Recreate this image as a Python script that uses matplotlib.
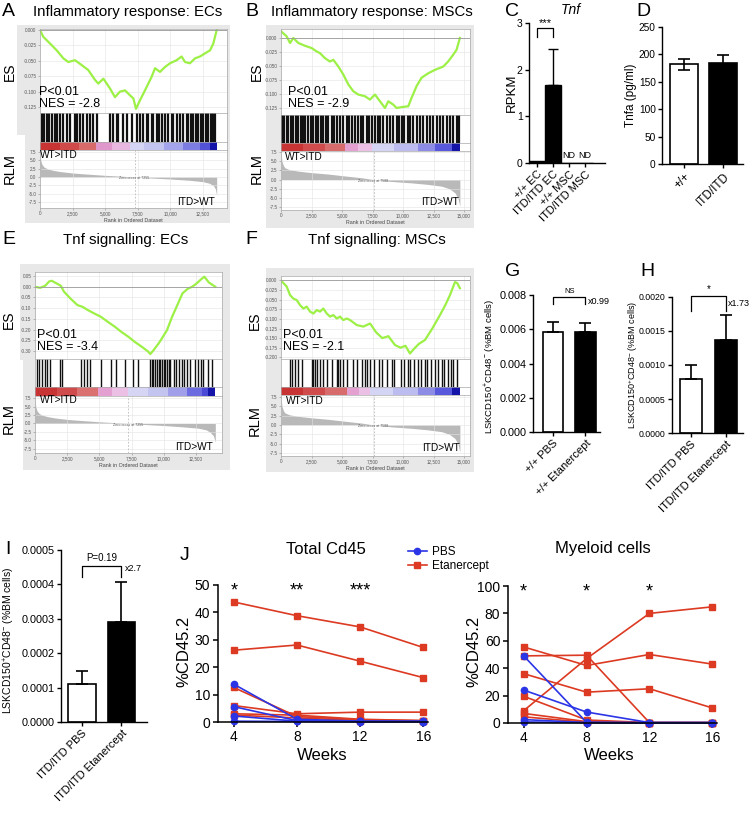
import matplotlib
matplotlib.use("Agg")
import matplotlib.pyplot as plt
from matplotlib.patches import Rectangle
from matplotlib.lines import Line2D

plt.rcParams['font.family'] = ['Liberation Sans', 'DejaVu Sans']
plt.rcParams['mathtext.fontset'] = 'custom'
plt.rcParams['mathtext.rm'] = 'Liberation Sans'
plt.rcParams['mathtext.it'] = 'Liberation Sans:italic'

W, H = 752, 817

# ---------------- GSEA data ----------------
# A: inflammatory response, ECs
esA_rank = [0, 250, 770, 1280, 1790, 2170, 2680, 3200, 3700, 4220, 4470, 4860, 5370, 5750,
            6130, 6520, 6900, 7160, 7360, 7670, 8050, 8560, 8820, 9200, 9590, 9970, 10480,
            10860, 11120, 11500, 11890, 12270, 12650, 13040, 13290, 13550]
esA_val = [0.000, -0.011, -0.022, -0.033, -0.046, -0.052, -0.049, -0.057, -0.065, -0.081, -0.087,
           -0.079, -0.095, -0.109, -0.100, -0.098, -0.106, -0.111, -0.128, -0.114, -0.098, -0.076,
           -0.062, -0.068, -0.060, -0.054, -0.049, -0.043, -0.052, -0.054, -0.046, -0.043, -0.038,
           -0.033, -0.022, 0.000]
hitsA = [130, 330, 510, 720, 900, 1150, 1280, 1530, 1790, 2050, 2300, 2690, 2860, 3070, 3320,
         3630, 3840, 4090, 4350, 5370, 5620, 5880, 6010, 6390, 6650, 7030, 7410, 7670, 7930,
         8180, 8310, 8560, 8690, 8950, 9150, 9330, 9590, 9840, 10100, 10230, 10480, 10740,
         10990, 11250, 11380, 11580, 11760, 11970, 12140, 12330, 12530, 12730, 12910, 13090,
         13300, 13450]
bandA_edges = [0, 1500, 3000, 4300, 5500, 6900, 8000, 9500, 11000, 12300, 13000, 13550]
bandA_colors = ['#c83434', '#d04a4a', '#d86a6a', '#e098cc', '#e8b8e0', '#d4d4f4', '#c4c4f0',
                '#a4a4ec', '#7c7ce2', '#5252d8', '#1414a8']
rlmA_rank = [0, 60, 150, 300, 600, 1000, 1600, 2500, 3500, 5000, 6200, 7255, 8500, 10000,
             11500, 12500, 13000, 13300, 13450, 13550]
rlmA_val = [7.4, 5.0, 3.8, 3.0, 2.4, 2.0, 1.6, 1.2, 0.9, 0.5, 0.25, 0.0, -0.3, -0.6, -1.0,
            -1.4, -1.9, -2.6, -3.6, -5.5]

# B: inflammatory response, MSCs
esB_rank = [0, 460, 740, 1010, 1420, 1970, 2510, 2920, 3190, 3600, 4010, 4290, 4700, 5100, 5520,
            5920, 6330, 6880, 7290, 7700, 8110, 8520, 8790, 9200, 9470, 10020, 10430, 10700,
            11110, 11520, 12070, 12610, 13300, 13700, 14110, 14390, 14660]
esB_val = [0.012, 0.003, -0.009, 0.000, -0.009, -0.014, -0.018, -0.024, -0.027, -0.036, -0.042,
           -0.039, -0.051, -0.065, -0.083, -0.095, -0.101, -0.104, -0.110, -0.101, -0.113, -0.125,
           -0.113, -0.119, -0.125, -0.123, -0.122, -0.107, -0.086, -0.071, -0.063, -0.057, -0.051,
           -0.042, -0.030, -0.021, 0.000]
hitsB = [110, 270, 460, 600, 820, 1010, 1200, 1420, 1640, 1830, 1970, 2240, 2460, 2650, 2840,
         3060, 3280, 3470, 3660, 3880, 4150, 4370, 4560, 4830, 5100, 5380, 5570, 5790, 6060,
         6330, 6550, 6740, 7020, 7210, 7430, 7700, 7920, 8110, 8380, 8650, 8930, 9200, 9470,
         9660, 9880, 10100, 10370, 10570, 10840, 11110, 11380, 11660, 11930, 12200, 12480,
         12750, 13020, 13300, 13570, 13840, 14110, 14390, 14580]
bandB_edges = [0, 1800, 3600, 5240, 6300, 7430, 9300, 11250, 12600, 14000, 14660]
bandB_colors = ['#c83434', '#d04c4c', '#d86c6c', '#e4a0d0', '#ecc0e4', '#d4d4f4', '#bcbcf0',
                '#8c8ce6', '#5858dc', '#1414a8']
rlmB_rank = [0, 80, 200, 330, 700, 1420, 2500, 3880, 5200, 6600, 7588, 9000, 10700, 12000,
             13160, 13800, 14250, 14500, 14660]
rlmB_val = [7.5, 5.0, 3.8, 3.2, 2.7, 2.3, 1.9, 1.5, 1.0, 0.5, 0.0, -0.5, -0.9, -1.3, -1.8,
            -2.5, -3.6, -5.0, -7.3]

# E: Tnf signalling, ECs
esE_rank = [0, 400, 800, 1100, 1300, 1600, 2000, 2250, 2750, 3300, 3700, 4100, 4600, 5100, 5650,
            6200, 6700, 7250, 7750, 8300, 8800, 8950, 9200, 9600, 9850, 10250, 10650, 11050,
            11450, 11850, 12200, 12500, 12900, 13150, 13500, 14000]
esE_val = [0.000, -0.005, 0.005, 0.025, 0.028, 0.018, 0.005, -0.023, -0.055, -0.086, -0.094,
           -0.109, -0.125, -0.140, -0.164, -0.187, -0.211, -0.234, -0.258, -0.281, -0.304,
           -0.315, -0.297, -0.265, -0.242, -0.203, -0.140, -0.086, -0.031, -0.010, 0.000,
           0.013, 0.035, 0.047, 0.020, 0.000]
hitsE = [130, 340, 525, 790, 920, 1180, 1970, 2100, 3550, 3810, 4075, 4290, 5130, 5920, 6310,
         6970, 7630, 8020, 8940, 9070, 9200, 9340, 9470, 9600, 9730, 9860, 9990, 10125, 10260,
         10390, 10520, 10780, 10910, 11180, 11440, 11570, 11835, 12030, 12420, 12680, 12860,
         13070, 13450, 13720]
bandE_edges = [0, 1700, 3300, 4870, 6000, 7230, 8800, 10300, 11800, 13000, 13450, 14000]
bandE_colors = ['#c83434', '#d04c4c', '#da7070', '#e4a0d0', '#ecc0e4', '#d6d6f4', '#c4c4f0',
                '#a0a0ea', '#6c6ce0', '#4a4ad6', '#1414a8']
rlmE_rank = [0, 60, 150, 300, 600, 1000, 1600, 2500, 3500, 5000, 6200, 7255, 8500, 10000,
             11500, 12700, 13300, 13600, 13850, 14000]
rlmE_val = [7.4, 5.0, 3.8, 3.0, 2.4, 2.0, 1.6, 1.2, 0.9, 0.5, 0.25, 0.0, -0.3, -0.6, -1.0,
            -1.4, -1.9, -2.6, -3.6, -5.5]

# F: Tnf signalling, MSCs
esF_rank = [0, 470, 740, 1010, 1290, 1560, 1830, 2110, 2380, 2650, 2930, 3200, 3470, 3750, 4020,
            4290, 4570, 4840, 5110, 5390, 5660, 6210, 6750, 7300, 7800, 8300, 8800, 9340, 9800,
            10200, 10570, 10900, 11300, 11800, 12400, 13030, 13450, 13850, 14260, 14450, 14660]
esF_val = [0.000, -0.016, -0.038, -0.047, -0.051, -0.064, -0.073, -0.068, -0.081, -0.086, -0.077,
           -0.081, -0.073, -0.086, -0.094, -0.090, -0.099, -0.094, -0.103, -0.099, -0.103, -0.116,
           -0.120, -0.112, -0.135, -0.150, -0.145, -0.168, -0.175, -0.170, -0.190, -0.178,
           -0.165, -0.155, -0.125, -0.090, -0.065, -0.038, -0.004, -0.007, -0.020]
hitsF = [740, 875, 1150, 1420, 1690, 2510, 2650, 2790, 2920, 3200, 3470, 3750, 4160, 4570, 4700,
         4840, 5110, 5380, 5930, 6200, 6610, 6890, 7020, 7300, 7600, 8000, 8300, 8700, 9100,
         9300, 9800, 10100, 10400, 10600, 10900, 11200, 11500, 11800, 12000, 12300, 12600,
         12900, 13200, 13400, 13700, 13900, 14100, 14400]
bandF_edges = [0, 1800, 3600, 5400, 6400, 7300, 9200, 11200, 12600, 14000, 14660]
bandF_colors = ['#c83434', '#d04c4c', '#d86c6c', '#e4a0d0', '#ecc0e4', '#d4d4f4', '#bcbcf0',
                '#8c8ce6', '#5858dc', '#1414a8']
rlmF_rank = rlmB_rank
rlmF_val = rlmB_val

# ---------------- bar chart data ----------------
c_labels = ['+/+ EC', 'ITD/ITD EC', '+/+ MSC', 'ITD/ITD MSC']
c_rpkm = [0.04, 1.68, 0.0, 0.0]
c_err = [0.01, 0.77, 0.0, 0.0]
c_nd = [False, False, True, True]

d_labels = ['+/+', 'ITD/ITD']
d_tnfa = [182, 184]
d_err = [10, 14]

g_labels = ['+/+ PBS', '+/+ Etanercept']
g_vals = [0.00586, 0.00582]
g_err = [0.00056, 0.00053]

h_labels = ['ITD/ITD PBS', 'ITD/ITD Etanercept']
h_vals = [0.00079, 0.00137]
h_err = [0.00021, 0.00037]

i_labels = ['ITD/ITD PBS', 'ITD/ITD Etanercept']
i_vals = [0.000111, 0.000291]
i_err = [0.000036, 0.000117]

# ---------------- J: time course ----------------
weeks = [4, 8, 12, 16]
cd45_etan = [[43.8, 38.8, 34.7, 27.2],
             [26.2, 28.1, 22.2, 16.2],
             [12.6, 2.0, 0.8, 0.5],
             [6.0, 3.0, 3.6, 3.6],
             [3.0, 2.5, 1.0, 0.5],
             [2.5, 1.5, 0.5, 0.3]]
cd45_pbs = [[13.8, 1.0, 0.3, 0.3],
            [5.6, 0.5, 0.2, 0.2],
            [2.2, 0.3, 0.2, 0.1],
            [0.3, 0.2, 0.1, 0.1]]
mye_etan = [[9.0, 47.0, 80.0, 84.8],
            [55.5, 42.0, 50.0, 43.0],
            [49.0, 49.5, 0.3, 0.3],
            [36.0, 22.5, 25.0, 11.0],
            [19.5, 2.2, 0.3, 0.3],
            [7.0, 1.0, 0.2, 0.2],
            [4.5, 0.5, 0.2, 0.2]]
mye_pbs = [[49.0, 0.5, 0.2, 0.2],
           [24.0, 8.0, 0.3, 0.3],
           [2.5, 0.3, 0.2, 0.2],
           [0.8, 0.2, 0.1, 0.1]]
cd45_stars = ['*', '**', '***']
mye_stars = ['*', '*', '*']

RED = '#dc3a22'
BLUE = '#2b35e6'
ES_GREEN = '#9cf046'

fig = plt.figure(figsize=(W / 100, H / 100), dpi=100)


def px_axes(x0, y0, x1, y1):
    return fig.add_axes([x0 / W, 1 - y1 / H, (x1 - x0) / W, (y1 - y0) / H])


def ftext(x, y, s, **kw):
    return fig.text(x / W, 1 - y / H, s, **kw)


def grey_box(x0, y0, x1, y1):
    fig.add_artist(Rectangle((x0 / W, 1 - y1 / H), (x1 - x0) / W, (y1 - y0) / H,
                             transform=fig.transFigure, facecolor='#e8e8e8',
                             edgecolor='none', zorder=-5))


def gsea_style(ax):
    for s in ax.spines.values():
        s.set_color('#a8a8a8')
        s.set_linewidth(0.5)
    ax.tick_params(labelsize=3.3, labelcolor='#555555', length=1.5, width=0.4, color='#888888',
                   pad=1)


def draw_gsea(x0, x1, ys, xmax, xticks, es_rank, es_val, es_lim, es_ticks, es_fmt,
              hits, hit_lw, band_edges, band_colors, rlm_rank, rlm_val, rlm_lim, zero_cross):
    y_es, y_hit, y_band, y_rlm, y_bot = ys
    ax = px_axes(x0, y_es, x1, y_hit)
    ax.plot(es_rank, es_val, color=ES_GREEN, lw=1.6, solid_joinstyle='round')
    ax.axhline(0, color='#9a9a9a', lw=0.6)
    ax.set_xlim(0, xmax)
    ax.set_ylim(*es_lim)
    ax.set_yticks(es_ticks)
    ax.set_yticklabels([es_fmt.format(t) for t in es_ticks])
    ax.set_xticks(xticks)
    ax.set_xticklabels([])
    ax.grid(color='#e4e4e4', lw=0.4)
    ax.tick_params(axis='x', length=0)
    gsea_style(ax)

    axh = px_axes(x0, y_hit, x1, y_band)
    axh.vlines(hits, 0, 1, color='#111111', lw=hit_lw)
    axh.set_xlim(0, xmax)
    axh.set_ylim(0, 1)
    axh.set_xticks([])
    axh.set_yticks([])
    gsea_style(axh)

    axb = px_axes(x0, y_band, x1, y_rlm)
    for i, c in enumerate(band_colors):
        axb.axvspan(band_edges[i], band_edges[i + 1], color=c, lw=0)
    axb.set_xlim(0, xmax)
    axb.set_xticks([])
    axb.set_yticks([])
    gsea_style(axb)

    axr = px_axes(x0, y_rlm, x1, y_bot)
    axr.fill_between(rlm_rank, rlm_val, 0, color='#b9b9b9', lw=0)
    axr.axvline(zero_cross, color='#bbbbbb', lw=0.6, ls=(0, (2, 2)))
    axr.text(zero_cross, -0.3, 'Zero cross at %d' % zero_cross, fontsize=2.6, ha='center',
             va='center', color='#555555')
    axr.set_xlim(0, xmax)
    axr.set_ylim(*rlm_lim)
    rt = [7.5, 5.0, 2.5, 0.0, -2.5, -5.0, -7.5]
    axr.set_yticks(rt)
    axr.set_yticklabels(['%.1f' % t for t in rt])
    axr.set_xticks(xticks)
    axr.set_xticklabels(['{:,}'.format(t) for t in xticks])
    axr.grid(color='#e4e4e4', lw=0.4)
    axr.set_xlabel('Rank in Ordered Dataset', fontsize=3.8, color='#444444', labelpad=1)
    gsea_style(axr)


def gsea_text(label, lx, title, tx, ty, es_x, es_y, rlm_y, px, py, nes, wt, itd):
    ftext(lx, ty, label, fontsize=14, ha='left', va='center')
    ftext(tx, ty, title, fontsize=10.8, ha='center', va='center')
    ftext(es_x, es_y, 'ES', fontsize=10, rotation=90, ha='center', va='center')
    ftext(es_x, rlm_y, 'RLM', fontsize=10.5, rotation=90, ha='center', va='center')
    ftext(px, py, 'P<0.01\nNES = %s' % nes, fontsize=9, ha='left', va='top', linespacing=0.95)
    ftext(wt[0], wt[1], 'WT>ITD', fontsize=7.3, ha='left', va='center')
    ftext(itd[0], itd[1], 'ITD>WT', fontsize=7.3, ha='right', va='center')


# grey GSEA backgrounds
grey_box(17, 25, 230, 135)
grey_box(25, 135, 230, 223)
grey_box(266, 25, 474, 228)
grey_box(20, 264, 230, 360)
grey_box(23, 360, 230, 470)
grey_box(266, 268, 474, 472)

ticks_ec = [0, 2500, 5000, 7500, 10000, 12500]
ticks_msc = [0, 2500, 5000, 7500, 10000, 12500, 15000]
es_t1 = [0.0, -0.025, -0.05, -0.075, -0.1, -0.125]

draw_gsea(40, 227, (29, 113, 142, 150, 208), 14340, ticks_ec, esA_rank, esA_val,
          (-0.1347, 0.0016), es_t1, '{:.3f}', hitsA, 1.6, bandA_edges, bandA_colors,
          rlmA_rank, rlmA_val, (-9.3, 8.1), 7255)
draw_gsea(281, 470, (29, 115, 143, 151, 210), 15490, ticks_msc, esB_rank, esB_val,
          (-0.1375, 0.016), es_t1, '{:.3f}', hitsB, 1.6, bandB_edges, bandB_colors,
          rlmB_rank, rlmB_val, (-8.3, 7.8), 7588)
draw_gsea(35, 222, (272, 359, 387, 396, 453), 14520, ticks_ec, esE_rank, esE_val,
          (-0.338, 0.069), [0.05, 0.0, -0.05, -0.1, -0.15, -0.2, -0.25, -0.3], '{:.2f}',
          hitsE, 1.0, bandE_edges, bandE_colors, rlmE_rank, rlmE_val, (-8.7, 8.1), 7255)
draw_gsea(281, 470, (276, 359, 387, 395, 456), 15490, ticks_msc, esF_rank, esF_val,
          (-0.2044, 0.0117), [0.0, -0.025, -0.05, -0.075, -0.1, -0.125, -0.15, -0.175, -0.2],
          '{:.3f}', hitsF, 1.0, bandF_edges, bandF_colors, rlmF_rank, rlmF_val, (-8.3, 8.0),
          7588)

gsea_text('A', 2, 'Inflammatory response: ECs', 128, 12, 10, 72, 169, 39, 86, '-2.8',
          (40, 155), (215, 202))
gsea_text('B', 245, 'Inflammatory response: MSCs', 372, 12, 257, 72, 168, 288, 86, '-2.9',
          (285, 157), (459, 202))
gsea_text('E', 2, 'Tnf signalling: ECs', 126, 240, 9, 320, 418, 37, 329, '-3.4',
          (40, 400), (213, 447))
gsea_text('F', 245, 'Tnf signalling: MSCs', 377, 240, 255, 321, 420, 283, 329, '-2.1',
          (286, 401), (460, 448))


# ---------------- bar charts ----------------
def bar_style(ax, fs=7.5):
    for s in ['top', 'right']:
        ax.spines[s].set_visible(False)
    for s in ['left', 'bottom']:
        ax.spines[s].set_linewidth(1.0)
    ax.tick_params(labelsize=fs, length=3, width=1.0, pad=1.5)


def bracket(ax, x0, x1, ylow, yhigh, lw=0.9):
    ax.plot([x0, x0, x1, x1], [ylow, yhigh, yhigh, ylow], color='k', lw=lw, clip_on=False)


def rot_labels(ax, labels, fs=8):
    ax.set_xticks(range(len(labels)))
    ax.set_xticklabels(labels, rotation=45, ha='right', rotation_mode='anchor', fontsize=fs)


# C
axc = px_axes(529, 23, 605, 163)
xs = range(len(c_labels))
axc.bar(xs, c_rpkm, width=0.95, color='k', edgecolor='k', lw=1)
axc.errorbar([1], [c_rpkm[1]], yerr=[[0], [c_err[1]]], fmt='none', ecolor='k', elinewidth=1,
             capsize=3.5, capthick=1)
for i, nd in enumerate(c_nd):
    if nd:
        axc.text(i, 0.07, 'ND', ha='center', va='bottom', fontsize=6.5)
axc.set_xlim(-0.5, 4.25)
axc.set_ylim(0, 3)
axc.set_yticks([0, 1, 2, 3])
bar_style(axc)
rot_labels(axc, c_labels, 8)
bracket(axc, 0, 1, 2.71, 2.89)
axc.text(0.5, 2.9, '***', ha='center', va='bottom', fontsize=8)
ftext(505, 12, 'C', fontsize=14, ha='left', va='center')
ftext(571, 10, 'Tnf', fontsize=10, style='italic', ha='center', va='center')
ftext(512, 93, 'RPKM', fontsize=9.5, rotation=90, ha='center', va='center')

# D
axd = px_axes(662, 27, 743, 164)
axd.bar([0, 1], d_tnfa, width=0.7, color=['white', 'k'], edgecolor='k', lw=1.2)
axd.errorbar([0, 1], d_tnfa, yerr=d_err, fmt='none', ecolor='k', elinewidth=1.2, capsize=4,
             capthick=1.2)
axd.set_xlim(-0.56, 1.51)
axd.set_ylim(0, 250)
axd.set_yticks([0, 50, 100, 150, 200, 250])
bar_style(axd, 7.3)
rot_labels(axd, d_labels, 8.5)
ftext(636, 12, 'D', fontsize=14, ha='left', va='center')
ftext(631, 95, 'Tnfa (pg/ml)', fontsize=8.5, rotation=90, ha='center', va='center')

LSK = r'LSKCD150$^{+}$CD48$^{-}$ (%BM cells)'


def two_bar(box, vals, errs, labels, xlim, width, ylim, yticks, yfmt, fs=7.5):
    ax = px_axes(*box)
    ax.bar([0, 1], vals, width=width, color=['white', 'k'], edgecolor='k', lw=1.2)
    ax.errorbar([0, 1], vals, yerr=[[0, 0], errs], fmt='none', ecolor='k', elinewidth=1.2,
                capsize=4, capthick=1.2)
    ax.set_xlim(*xlim)
    ax.set_ylim(*ylim)
    ax.set_yticks(yticks)
    ax.set_yticklabels([yfmt.format(t) for t in yticks])
    bar_style(ax, fs)
    rot_labels(ax, labels, 8)
    return ax


# G
axg = two_bar((533, 295, 600, 432), g_vals, g_err, g_labels, (-0.62, 1.45), 0.63, (0, 0.008),
              [0, 0.002, 0.004, 0.006, 0.008], '{:.3f}', 7.8)
bracket(axg, 0, 1, 0.0075, 0.0079)
axg.text(0.5, 0.008, 'NS', ha='center', va='bottom', fontsize=5.5)
axg.text(1.08, 0.0076, 'x0.99', ha='left', va='center', fontsize=6.5)
ftext(505, 272, 'G', fontsize=14, ha='left', va='center')
ftext(490, 366, LSK, fontsize=6.8, rotation=90, ha='center', va='center')

# H
axh = two_bar((672, 297, 743, 433), h_vals, h_err, h_labels, (-0.54, 1.49), 0.63, (0, 0.002),
              [0, 0.0005, 0.001, 0.0015, 0.002], '{:.4f}', 6.3)
bracket(axh, 0, 1, 0.00179, 0.00201)
axh.text(0.5, 0.00204, '*', ha='center', va='bottom', fontsize=7)
axh.text(1.05, 0.0019, 'x1.73', ha='left', va='center', fontsize=6.5)
ftext(640, 272, 'H', fontsize=14, ha='left', va='center')
ftext(633, 365, LSK, fontsize=6.5, rotation=90, ha='center', va='center')

# I
axi = two_bar((61, 550, 147, 722), i_vals, i_err, i_labels, (-0.53, 1.65), 0.7, (0, 0.0005),
              [0, 0.0001, 0.0002, 0.0003, 0.0004, 0.0005], '{:.4f}', 7.8)
bracket(axi, 0, 1, 0.000422, 0.000454)
axi.text(0.5, 0.000462, 'P=0.19', ha='center', va='bottom', fontsize=7)
axi.text(1.1, 0.000445, 'x2.7', ha='left', va='center', fontsize=6.5)
ftext(5, 550, 'I', fontsize=14, ha='left', va='center')
ftext(9, 640, LSK, fontsize=7.5, rotation=90, ha='center', va='center')


# ---------------- J ----------------
def time_course(box, etan, pbs, ymax, yticks, stars):
    ax = px_axes(*box)
    for row in etan:
        ax.plot(weeks, row, color=RED, lw=1.2, marker='s', ms=4.5, mec=RED, mfc=RED,
                clip_on=False)
    for row in pbs:
        ax.plot(weeks, row, color=BLUE, lw=1.2, marker='o', ms=4.5, mec=BLUE, mfc=BLUE,
                clip_on=False)
    ax.set_xlim(3, 16.3)
    ax.set_ylim(0, ymax)
    ax.set_xticks(weeks)
    ax.set_yticks(yticks)
    for s in ['top', 'right']:
        ax.spines[s].set_visible(False)
    for s in ['left', 'bottom']:
        ax.spines[s].set_linewidth(1.1)
    ax.tick_params(labelsize=10, length=3.5, width=1.1, pad=2)
    for wk, st in zip(weeks[:3], stars):
        ax.text(wk, ymax * 0.955, st, ha='center', va='center', fontsize=13)
    return ax


time_course((218, 585, 428, 722), cd45_etan, cd45_pbs, 50, [0, 10, 20, 30, 40, 50], cd45_stars)
time_course((508, 586, 717, 723), mye_etan, mye_pbs, 100, [0, 20, 40, 60, 80, 100], mye_stars)
ftext(180, 555, 'J', fontsize=14, ha='left', va='center')
ftext(326, 549, 'Total Cd45', fontsize=12, ha='center', va='center')
ftext(603, 549, 'Myeloid cells', fontsize=12, ha='center', va='center')
ftext(184, 651, '%CD45.2', fontsize=12, rotation=90, ha='center', va='center')
ftext(474, 651, '%CD45.2', fontsize=12, rotation=90, ha='center', va='center')
ftext(322, 756, 'Weeks', fontsize=12, ha='center', va='center')
ftext(609, 756, 'Weeks', fontsize=12, ha='center', va='center')

handles = [Line2D([], [], color=BLUE, marker='o', ms=4.5, lw=1.2),
           Line2D([], [], color=RED, marker='s', ms=4.5, lw=1.2)]
fig.legend(handles, ['PBS', 'Etanercept'], loc='upper left',
           bbox_to_anchor=(408 / W, 1 - 546 / H), frameon=False, fontsize=8.5,
           handlelength=1.6, handletextpad=0.4, labelspacing=0.15, borderaxespad=0,
           borderpad=0)

fig.savefig('out.png', dpi=100)
